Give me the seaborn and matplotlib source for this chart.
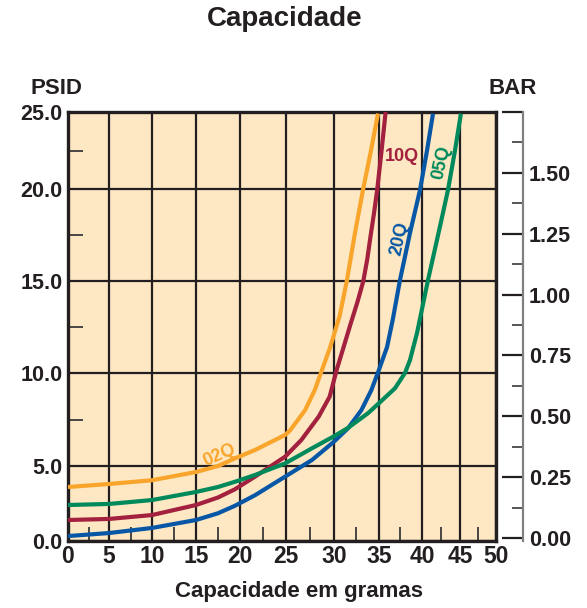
import numpy as np
import pandas as pd
import matplotlib
matplotlib.use("Agg")
import matplotlib.pyplot as plt
import seaborn as sns
from matplotlib.ticker import FixedLocator, NullFormatter

# ---------------- data ----------------
x_02q = [0, 5, 10, 15, 17.5, 19.43, 21.63, 24.9, 25.4, 26.2, 27.0, 28.0, 28.76,
         29.6, 30.63, 31.44, 32.33, 33.22, 34.11, 34.89]
y_02q = [3.6, 3.8, 4.05, 4.6, 5.0, 5.41, 5.86, 6.67, 6.9, 7.45, 8.01, 9.09, 10.18,
         11.4, 13.1, 15.05, 17.61, 19.95, 22.5, 24.9]

x_10q = [0, 5, 10, 15, 17.5, 19.43, 21.63, 24.9, 26.6, 28.4, 29.55, 30.0, 30.3,
         31.0, 31.8, 32.6, 33.26, 33.7, 34.05, 34.45, 34.81, 35.3, 35.77]
y_10q = [1.4, 1.47, 1.73, 2.4, 2.9, 3.45, 4.29, 5.5, 6.4, 7.65, 8.73, 9.62, 10.18,
         11.3, 12.6, 13.85, 15.0, 16.2, 17.4, 18.7, 20.0, 22.5, 25.0]

x_20q = [0, 5, 10, 15, 17.5, 19.43, 21.63, 24.9, 27.7, 30.0, 31.56, 33.05, 34.16,
         35.0, 35.93, 36.6, 37.44, 38.6, 39.77, 40.66, 41.45]
y_20q = [0.33, 0.53, 0.87, 1.4, 1.85, 2.35, 3.05, 4.29, 5.32, 6.31, 7.03, 8.01, 9.09,
         10.18, 11.4, 12.9, 15.05, 17.6, 19.95, 22.5, 24.9]

x_05q = [0, 5, 10, 15, 17.5, 19.43, 21.63, 24.9, 27.7, 30.0, 31.56, 33.78, 35.0,
         36.86, 38.02, 38.6, 39.42, 40.79, 41.97, 42.76, 43.42, 44.34, 45.13]
y_05q = [2.4, 2.47, 2.73, 3.27, 3.6, 3.95, 4.4, 5.14, 5.95, 6.6, 7.05, 7.84, 8.38,
         9.18, 10.0, 10.7, 12.17, 15.05, 17.23, 18.7, 19.95, 22.5, 24.9]

series_names = ["02Q", "10Q", "20Q", "05Q"]
x_ticks = [0, 5, 10, 15, 20, 25, 30, 35, 40, 45, 50]
y_ticks = [0, 5, 10, 15, 20, 25]
bar_ticks = [0.0, 0.25, 0.5, 0.75, 1.0, 1.25, 1.5, 1.75]
bar_labels = ["0.00", "0.25", "0.50", "0.75", "1.00", "1.25", "1.50", ""]

# nonlinear printed grid spacing of the original chart (scale definition)
x_scale_pos = [0, 41, 84, 128, 172, 218, 266, 311, 354, 392, 428]
y_scale_pos = [0, 75, 168, 260, 352, 429]

colors = {"02Q": "#F9A52B", "10Q": "#A3203E", "20Q": "#0757A6", "05Q": "#008A5B"}

frames = []
for name, xs, ys in [("02Q", x_02q, y_02q), ("10Q", x_10q, y_10q),
                     ("20Q", x_20q, y_20q), ("05Q", x_05q, y_05q)]:
    frames.append(pd.DataFrame({"g": xs, "psid": ys, "serie": name}))
df = pd.concat(frames, ignore_index=True)

# ---------------- figure ----------------
sns.set_theme(style="white")
plt.rcParams["font.family"] = ["Liberation Sans", "DejaVu Sans"]
plt.rcParams["font.weight"] = "bold"

W, H = 587, 608
fig = plt.figure(figsize=(W / 100, H / 100), dpi=100)
L, R, T, B = 68, 496, 112, 541
ax = fig.add_axes([L / W, 1 - B / H, (R - L) / W, (B - T) / H])
ax.set_facecolor("#FDE8C3")

fx = lambda v: np.interp(v, x_ticks, x_scale_pos)
ifx = lambda v: np.interp(v, x_scale_pos, x_ticks)
fy = lambda v: np.interp(v, y_ticks, y_scale_pos)
ify = lambda v: np.interp(v, y_scale_pos, y_ticks)
ax.set_xscale("function", functions=(fx, ifx))
ax.set_yscale("function", functions=(fy, ify))

sns.lineplot(data=df, x="g", y="psid", hue="serie", palette=colors,
             sort=False, estimator=None, linewidth=3.0, legend=False, ax=ax,
             zorder=3, solid_joinstyle="round", solid_capstyle="butt")

ax.set_xlim(0, 50)
ax.set_ylim(0, 25)

ax.xaxis.set_major_locator(FixedLocator(x_ticks))
ax.yaxis.set_major_locator(FixedLocator(y_ticks))
ax.xaxis.set_minor_locator(FixedLocator([t + 2.5 for t in x_ticks[:-1]]))
ax.yaxis.set_minor_locator(FixedLocator([t + 2.5 for t in y_ticks[:-1]]))
ax.xaxis.set_minor_formatter(NullFormatter())
ax.yaxis.set_minor_formatter(NullFormatter())
ax.set_xticklabels([str(t) for t in x_ticks])
ax.set_yticklabels([f"{t:.1f}" for t in y_ticks])

ax.grid(True, which="major", color="#231F20", linewidth=1.6)
ax.tick_params(axis="x", which="major", length=0, labelsize=16.5,
               labelcolor="#231F20", pad=3)
ax.tick_params(axis="y", which="major", length=0, labelsize=15.5,
               labelcolor="#231F20", pad=4)
ax.tick_params(axis="x", which="minor", direction="in", length=10,
               width=1.3, color="#3a3a3a", bottom=True)
ax.tick_params(axis="y", which="minor", direction="in", length=11,
               width=1.3, color="#3a3a3a", left=True)
for s in ax.spines.values():
    s.set_color("#231F20")
    s.set_linewidth(2.4)
ax.set_xlabel("")
ax.set_ylabel("")
for lab in ax.get_xticklabels() + ax.get_yticklabels():
    lab.set_fontweight("bold")

# right BAR axis
ax2 = ax.twinx()
bar_per_px = 1.75 / (538 - T)
ax2.set_ylim(-(B - 538) * bar_per_px, 1.75)
ax2.yaxis.set_major_locator(FixedLocator(bar_ticks))
ax2.yaxis.set_minor_locator(FixedLocator([t + 0.125 for t in bar_ticks[:-1]]))
ax2.set_yticks(bar_ticks)
ax2.set_yticklabels(bar_labels)
for k in ["left", "top", "bottom"]:
    ax2.spines[k].set_visible(False)
ax2.spines["right"].set_position(("outward", 19.5))
ax2.spines["right"].set_color("#808080")
ax2.spines["right"].set_linewidth(1.6)
ax2.tick_params(axis="y", which="major", direction="in", length=15, width=1.6,
                color="#231F20", labelsize=15.5, labelcolor="#231F20", pad=4)
ax2.tick_params(axis="y", which="minor", direction="in", length=8, width=1.2,
                color="#3a3a3a")
for lab in ax2.get_yticklabels():
    lab.set_fontweight("bold")
ax2.grid(False)

# series labels
ax.text(17.7, 5.6, "02Q", color=colors["02Q"], fontsize=13, fontweight="bold",
        rotation=24, ha="center", va="center", zorder=4)
ax.text(37.7, 22.1, "10Q", color=colors["10Q"], fontsize=13, fontweight="bold",
        rotation=0, ha="center", va="center", zorder=4)
ax.text(37.4, 17.3, "20Q", color=colors["20Q"], fontsize=13, fontweight="bold",
        rotation=78, ha="center", va="center", zorder=4)
ax.text(42.6, 21.7, "05Q", color=colors["05Q"], fontsize=13, fontweight="bold",
        rotation=78, ha="center", va="center", zorder=4)

# titles / unit labels
fig.text(285 / W, 1 - 19 / H, "Capacidade", ha="center", va="center",
         fontsize=20, fontweight="bold", color="#231F20")
fig.text(299 / W, 1 - 591 / H, "Capacidade em gramas", ha="center", va="center",
         fontsize=16, fontweight="bold", color="#231F20")
fig.text(31 / W, 1 - 88 / H, "PSID", ha="left", va="center",
         fontsize=16, fontweight="bold", color="#231F20")
fig.text(488 / W, 1 - 88 / H, "BAR", ha="left", va="center",
         fontsize=16, fontweight="bold", color="#231F20")

fig.savefig("out.png", dpi=100, facecolor="white")
